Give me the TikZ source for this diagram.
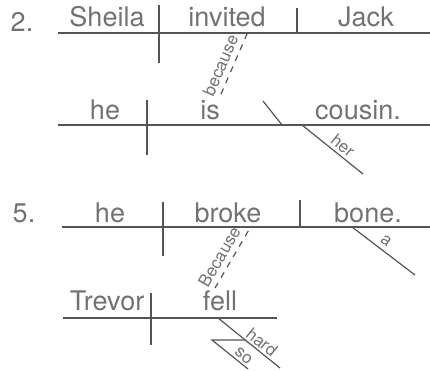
\documentclass[tikz,border=0pt]{standalone}
\usepackage{fontspec}
\setmainfont{TeX Gyre Heros}
\definecolor{ink}{HTML}{555555}
\definecolor{txt}{HTML}{727272}
\tikzset{
  word/.style={text=txt, font=\fontsize{27}{31}\selectfont, anchor=base, inner sep=0pt},
  small/.style={text=txt, font=\fontsize{17}{19}\selectfont, inner sep=1pt},
  ln/.style={draw=ink, line width=1.2pt},
  dsh/.style={ln, dash pattern=on 6pt off 6pt},
}
\begin{document}
\begin{tikzpicture}[x=1pt,y=-1pt]
\useasboundingbox (0,0) rectangle (430,371);

% ---------- Diagram 2 ----------
\node[word] (n2) at (22,32) {2.};
\node[word] (sheila) at (107,27) {Sheila};
\node[word] (invited) at (227,27) {invited};
\node[word] (jack) at (366,27) {Jack};
\coordinate (a1) at (58,33);  \coordinate (a2) at (430,33);
\coordinate (a3) at (159,5);  \coordinate (a4) at (159,63);
\coordinate (a5) at (297,8);  \coordinate (a6) at (297,33);
\draw[ln] (a1) -- (a2);
\draw[ln] (a3) -- (a4);
\draw[ln] (a5) -- (a6);

\node[word] (he1) at (105,120) {he};
\node[word] (is) at (210,120) {is};
\node[word] (cousin) at (358,120) {cousin.};
\coordinate (b1) at (58,125);  \coordinate (b2) at (430,125);
\coordinate (b3) at (147,100); \coordinate (b4) at (147,155);
\coordinate (b5) at (263,101); \coordinate (b6) at (282,125);
\coordinate (b7) at (302,125); \coordinate (b8) at (363,174);
\draw[ln] (b1) -- (b2);
\draw[ln] (b3) -- (b4);
\draw[ln] (b5) -- (b6);
\draw[ln] (b7) -- node[small, sloped, above=2pt, pos=0.57] (her) {her} (b8);

\coordinate (c1) at (221,94); \coordinate (c2) at (247,34);
\draw[dsh] (c1) -- node[small, sloped, above=4pt, pos=0.4] (because) {because} (c2);

% ---------- Diagram 5 ----------
\node[word] (n5) at (24,222) {5.};
\node[word] (he2) at (110,222) {he};
\node[word] (broke) at (228,222) {broke};
\node[word] (bone) at (368,222) {bone.};
\coordinate (d1) at (62,227);  \coordinate (d2) at (430,227);
\coordinate (d3) at (163,202); \coordinate (d4) at (163,256);
\coordinate (d5) at (300,200); \coordinate (d6) at (300,227);
\coordinate (d7) at (352,227); \coordinate (d8) at (415,275);
\draw[ln] (d1) -- (d2);
\draw[ln] (d3) -- (d4);
\draw[ln] (d5) -- (d6);
\draw[ln] (d7) -- node[small, sloped, above=3pt, pos=0.45] (a) {a} (d8);

\coordinate (e1) at (215,288); \coordinate (e2) at (250,228);
\draw[dsh] (e1) -- node[small, sloped, above=4pt, pos=0.42] (Because) {Because} (e2);

\node[word] (trevor) at (107,310) {Trevor};
\node[word] (fell) at (220,310) {fell};
\coordinate (f1) at (63,318);  \coordinate (f2) at (277,318);
\coordinate (f3) at (151,293); \coordinate (f4) at (151,345);
\coordinate (f5) at (218,318); \coordinate (f6) at (280,368);
\coordinate (f7) at (212,340); \coordinate (f8) at (245,340);
\coordinate (f9) at (248,369);
\draw[ln] (f1) -- (f2);
\draw[ln] (f3) -- (f4);
\draw[ln] (f5) -- node[small, sloped, above=1pt, pos=0.62] (hard) {hard} (f6);
\draw[ln] (f8) -- (f7) -- node[small, sloped, above=1pt, pos=0.75] (so) {so} (f9);
\end{tikzpicture}
\end{document}
